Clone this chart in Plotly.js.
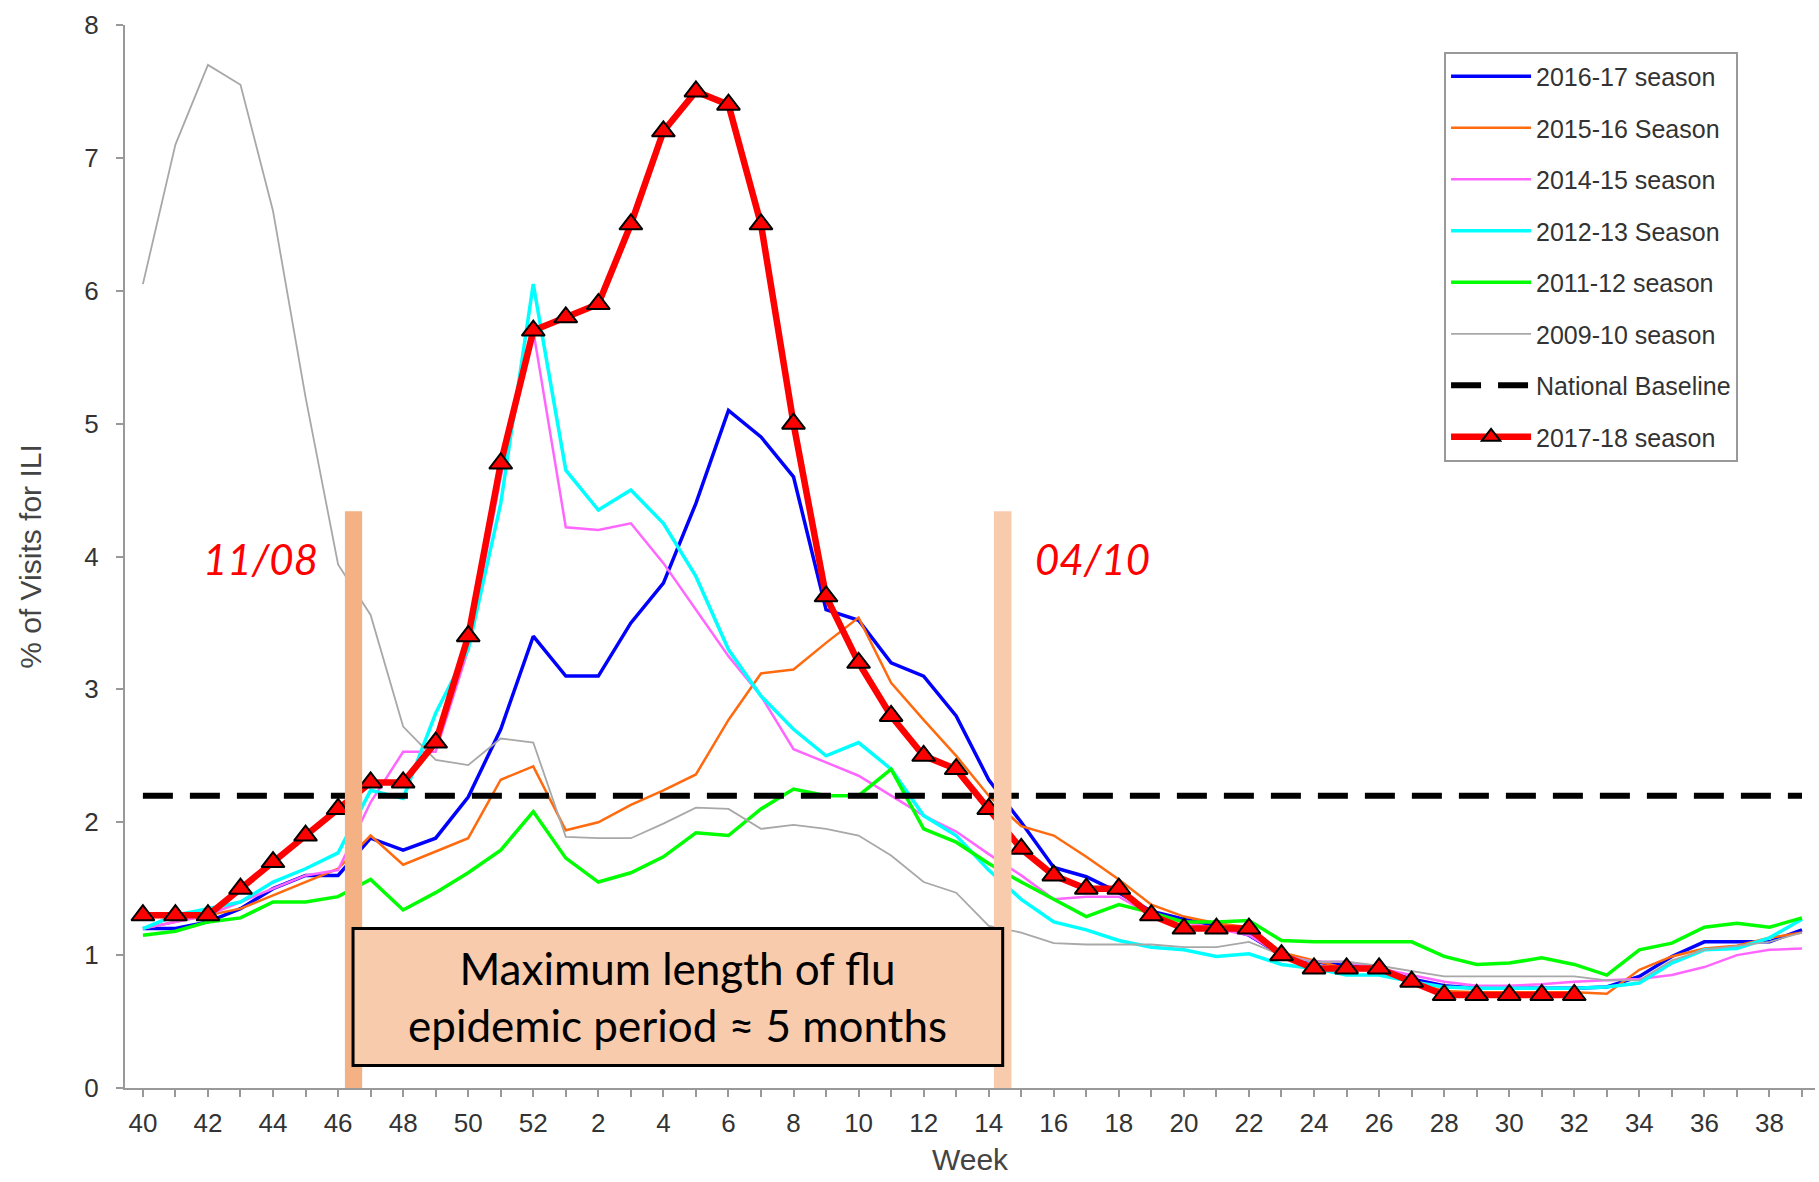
<!DOCTYPE html>
<html>
<head>
<meta charset="utf-8">
<script src="https://cdn.plot.ly/plotly-3.0.1.min.js"></script>
<style>html,body{margin:0;padding:0;background:#fff;}#chart{width:1819px;height:1182px;}</style>
</head>
<body>
<div id="chart"></div>
<script>
// Week labels (season runs from week 40 to week 39 of the next year)
const weeks = [40,41,42,43,44,45,46,47,48,49,50,51,52,1,2,3,4,5,6,7,8,9,10,11,12,13,14,15,16,17,18,19,20,21,22,23,24,25,26,27,28,29,30,31,32,33,34,35,36,37,38,39];

const s2016_17 = [1.2,1.2,1.25,1.35,1.5,1.6,1.6,1.88,1.79,1.88,2.19,2.7,3.4,3.1,3.1,3.5,3.8,4.4,5.1,4.9,4.6,3.6,3.52,3.2,3.1,2.8,2.32,2.0,1.66,1.59,1.47,1.33,1.27,1.22,1.15,1.0,0.95,0.92,0.9,0.82,0.77,0.75,0.75,0.75,0.75,0.76,0.84,0.99,1.1,1.1,1.1,1.19];
const s2015_16 = [1.2,1.25,1.3,1.35,1.45,1.55,1.65,1.9,1.68,1.78,1.88,2.32,2.42,1.94,2.0,2.13,2.24,2.36,2.77,3.12,3.15,3.35,3.54,3.05,2.77,2.5,2.2,1.97,1.9,1.74,1.57,1.38,1.29,1.24,1.21,1.02,0.96,0.9,0.88,0.8,0.73,0.72,0.72,0.72,0.72,0.71,0.89,0.99,1.05,1.07,1.13,1.17];
const s2014_15 = [1.2,1.25,1.3,1.4,1.5,1.6,1.64,2.15,2.53,2.53,3.3,4.6,5.7,4.22,4.2,4.25,3.95,3.6,3.25,2.95,2.55,2.45,2.35,2.2,2.05,1.93,1.76,1.6,1.42,1.44,1.44,1.3,1.25,1.2,1.15,1.0,0.95,0.95,0.9,0.85,0.8,0.77,0.77,0.78,0.8,0.81,0.82,0.85,0.91,1.0,1.04,1.05];
const s2012_13 = [1.2,1.3,1.35,1.4,1.55,1.65,1.77,2.24,2.18,2.82,3.3,4.4,6.05,4.65,4.35,4.5,4.25,3.85,3.3,2.95,2.7,2.5,2.6,2.4,2.05,1.9,1.64,1.42,1.25,1.19,1.11,1.06,1.04,0.99,1.01,0.93,0.9,0.85,0.85,0.8,0.76,0.75,0.75,0.75,0.75,0.76,0.79,0.94,1.04,1.05,1.13,1.27];
const s2011_12 = [1.15,1.18,1.25,1.28,1.4,1.4,1.44,1.57,1.34,1.47,1.62,1.79,2.08,1.73,1.55,1.62,1.74,1.92,1.9,2.1,2.25,2.2,2.2,2.4,1.95,1.85,1.69,1.55,1.42,1.29,1.38,1.32,1.25,1.25,1.26,1.11,1.1,1.1,1.1,1.1,0.99,0.93,0.94,0.98,0.93,0.85,1.04,1.09,1.21,1.24,1.21,1.28];
const s2009_10 = [6.05,7.1,7.7,7.55,6.6,5.2,3.94,3.56,2.72,2.47,2.43,2.63,2.6,1.89,1.88,1.88,1.99,2.11,2.1,1.95,1.98,1.95,1.9,1.75,1.55,1.47,1.22,1.17,1.09,1.08,1.08,1.08,1.06,1.06,1.1,1.0,0.95,0.95,0.92,0.88,0.84,0.84,0.84,0.84,0.84,0.81,0.81,0.96,1.04,1.07,1.1,1.17];
const baselineValue = 2.2;
const s2017_18 = [1.3,1.3,1.3,1.5,1.7,1.9,2.1,2.3,2.3,2.6,3.4,4.7,5.7,5.8,5.9,6.5,7.2,7.5,7.4,6.5,5.0,3.7,3.2,2.8,2.5,2.4,2.1,1.8,1.6,1.5,1.5,1.3,1.2,1.2,1.2,1.0,0.9,0.9,0.9,0.8,0.7,0.7,0.7,0.7,0.7];

const seriesNames = ["2016-17 season","2015-16 Season","2014-15 season","2012-13 Season","2011-12 season","2009-10 season","National Baseline","2017-18 season"];

const xIdx = weeks.map((w,i)=>i);
const tickText = weeks.map((w,i)=> (w%2===0) ? String(w) : "");

function line(name, y, color, width, extra){
  return Object.assign({
    type:'scatter', mode:'lines', name:name, legendgroup:name,
    x: xIdx.slice(0,y.length), y:y,
    line:{color:color, width:width}, hoverinfo:'x+y'
  }, extra||{});
}

const traces = [
  line(seriesNames[0], s2016_17, '#0000FF', 3.5),
  line(seriesNames[1], s2015_16, '#FF6A0E', 2.5),
  line(seriesNames[2], s2014_15, '#FF66FF', 2.5),
  line(seriesNames[3], s2012_13, '#00FFFF', 3.5),
  line(seriesNames[4], s2011_12, '#00FF00', 3.5),
  line(seriesNames[5], s2009_10, '#A8A8A8', 1.8),
  line(seriesNames[6], xIdx.map(()=>baselineValue), '#000000', 6, {line:{color:'#000000', width:6, dash:'30px,17px'}}),
  line(seriesNames[7], s2017_18, '#FF0000', 6.5, {mode:'lines+markers', marker:{symbol:'triangle-up', size:20, color:'#FF0000', line:{color:'#000000', width:2}}})
];

// Annotation geometry (week index coordinates)
const startBar = [6.21, 6.74];
const endBar = [26.16, 26.70];
const barTop = 4.34;
const boxX = [6.46, 26.43];
const boxY = [0.17, 1.2];

const layout = {
  width:1819, height:1182,
  paper_bgcolor:'#ffffff', plot_bgcolor:'#ffffff',
  margin:{l:125, r:4, t:25, b:94},
  showlegend:true,
  font:{family:'"Liberation Sans", Arial, sans-serif', color:'#333333'},
  xaxis:{
    range:[-0.55, 51.4], tickmode:'array', tickvals:xIdx, ticktext:tickText,
    ticks:'outside', ticklen:7, tickwidth:2, tickcolor:'#999999',
    showline:true, linecolor:'#999999', linewidth:2, showgrid:false, zeroline:false,
    tickfont:{size:26, color:'#333333'}, ticklabelstandoff:4,
    title:{text:'Week', font:{size:30, color:'#444444'}, standoff:12}
  },
  yaxis:{
    range:[0,8], tickvals:[0,1,2,3,4,5,6,7,8],
    ticks:'outside', ticklen:7, tickwidth:2, tickcolor:'#999999',
    showline:true, linecolor:'#999999', linewidth:2, showgrid:false, zeroline:false,
    tickfont:{size:26, color:'#333333'}, ticklabelstandoff:12,
    title:{text:'% of Visits for ILI', font:{size:30, color:'#444444'}, standoff:34}
  },
  legend:{
    x:0.7805, y:0.975, xanchor:'left', yanchor:'top',
    bgcolor:'#ffffff', bordercolor:'#999999', borderwidth:2,
    font:{size:25, color:'#333333'}, traceorder:'grouped', tracegroupgap:16,
    itemwidth:80
  },
  shapes:[
    {type:'rect', xref:'x', yref:'y', x0:startBar[0], x1:startBar[1], y0:0, y1:barTop, fillcolor:'#F4B183', line:{width:0}, layer:'above'},
    {type:'rect', xref:'x', yref:'y', x0:endBar[0], x1:endBar[1], y0:0, y1:barTop, fillcolor:'#F8CBAD', line:{width:0}, layer:'above'},
    {type:'rect', xref:'x', yref:'y', x0:boxX[0], x1:boxX[1], y0:boxY[0], y1:boxY[1], fillcolor:'#F8CBAD', line:{color:'#000000', width:3}, layer:'above'}
  ],
  annotations:[
    {xref:'x', yref:'y', x:(boxX[0]+boxX[1])/2, y:(boxY[0]+boxY[1])/2, text:'Maximum length of flu<br>epidemic period ≈ 5 months', showarrow:false,
     font:{family:'Lato, "Open Sans", sans-serif', size:44, color:'#000000'}, align:'center'},
    {xref:'x', yref:'y', x:3.6, y:3.98, text:'<i>11/08</i>', showarrow:false, font:{family:'Lato, "Open Sans", sans-serif', size:42, color:'#FF0000'}},
    {xref:'x', yref:'y', x:29.2, y:3.98, text:'<i>04/10</i>', showarrow:false, font:{family:'Lato, "Open Sans", sans-serif', size:42, color:'#FF0000'}}
  ]
};

Plotly.newPlot('chart', traces, layout, {displayModeBar:false, staticPlot:true});
</script>
</body>
</html>
